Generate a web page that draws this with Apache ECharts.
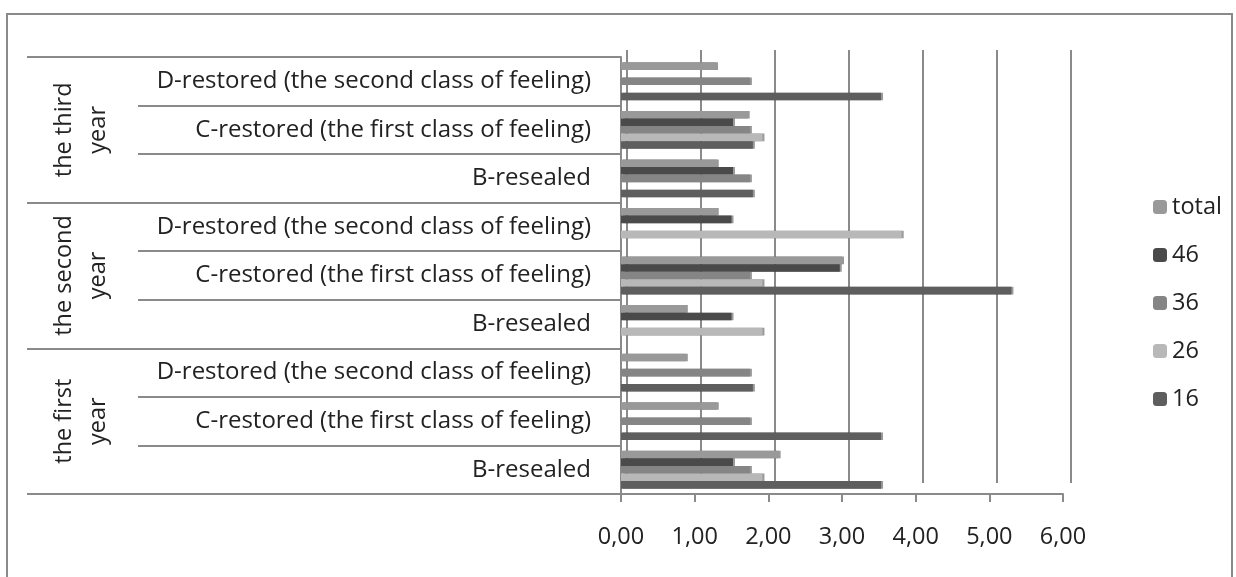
<!DOCTYPE html>
<html>
<head>
<meta charset="utf-8">
<script src="https://cdn.jsdelivr.net/npm/echarts@6/dist/echarts.min.js"></script>
<style>
html,body{margin:0;padding:0;background:#fff;}
#c{width:1236px;height:577px;}
</style>
</head>
<body>
<div id="c"></div>
<script>
// categories (bottom to top)
const categories = [
  'B-resealed', 'C-restored (the first class of feeling)', 'D-restored (the second class of feeling)',
  'B-resealed', 'C-restored (the first class of feeling)', 'D-restored (the second class of feeling)',
  'B-resealed', 'C-restored (the first class of feeling)', 'D-restored (the second class of feeling)'
];
const years = ['the first\nyear', 'the second\nyear', 'the third\nyear'];
// series listed top-to-bottom inside each category
const seriesNames = ['total', '46', '36', '26', '16'];
const sTot  = [2.14, 1.30, 0.88, 0.88, 3.00, 1.30, 1.30, 1.72, 1.29];
const s46   = [1.52, 0.00, 0.00, 1.50, 2.97, 1.50, 1.52, 1.52, 0.00];
const s36   = [1.75, 1.75, 1.75, 0.00, 1.75, 0.00, 1.75, 1.75, 1.75];
const s26   = [1.92, 0.00, 0.00, 1.92, 1.92, 3.81, 0.00, 1.92, 0.00];
const s16   = [3.53, 3.53, 1.79, 0.00, 5.30, 0.00, 1.79, 1.79, 3.53];
const xTicks = [0, 1, 2, 3, 4, 5, 6];

const colors = ['#999999', '#4a4a4a', '#858585', '#b8b8b8', '#5e5e5e'];
const values = [sTot, s46, s36, s26, s16];
const FONT = 'Open Sans';
const FS = 23.5;

const chart = echarts.init(document.getElementById('c'));
const series = seriesNames.map((n, i) => ({
  name: n,
  type: 'bar',
  xAxisIndex: 0,
  yAxisIndex: 0,
  data: values[i],
  barGap: '0%',
  barCategoryGap: '22%',
  itemStyle: { color: colors[i], shadowColor: 'rgba(0,0,0,0.4)', shadowOffsetX: 2, shadowOffsetY: 0, shadowBlur: 0 },
  z: 3
}));

chart.setOption({
  animation: false,
  backgroundColor: '#fff',
  textStyle: { fontFamily: FONT },
  graphic: [{
    type: 'rect', shape: { x: 7, y: 14, width: 1225, height: 620 },
    style: { fill: 'none', stroke: '#8a8a8a', lineWidth: 2 }, z: -10
  }],
  legend: {
    orient: 'vertical', left: 1148, top: 190,
    data: ['total', '46', '36', '26', '16'],
    itemWidth: 14, itemHeight: 14, itemGap: 24,
    textStyle: { fontFamily: FONT, fontSize: FS, color: '#222' }
  },
  grid: [
    { left: 621, top: 57, width: 442, height: 437 },
    { left: 627, top: 50, width: 444, height: 433 }
  ],
  xAxis: [
    {
      type: 'value', gridIndex: 0, min: xTicks[0], max: xTicks[xTicks.length - 1], interval: 1,
      axisLine: { show: true, lineStyle: { color: '#8a8a8a', width: 2 } },
      axisTick: { show: true, length: 8, lineStyle: { color: '#8a8a8a', width: 2 } },
      splitLine: { show: false },
      axisLabel: { margin: 31, fontSize: FS, color: '#222', fontFamily: FONT,
        formatter: v => v.toFixed(2).replace('.', ',') }
    },
    {
      type: 'value', gridIndex: 1, min: 0, max: 6, interval: 1,
      axisLine: { show: false }, axisTick: { show: false }, axisLabel: { show: false },
      splitLine: { show: true, lineStyle: { color: '#8a8a8a', width: 2 } }
    }
  ],
  yAxis: [
    {
      type: 'category', gridIndex: 0, data: categories,
      axisLine: { show: true, lineStyle: { color: '#8a8a8a', width: 2 } },
      axisTick: { show: true, interval: 0, length: 483, lineStyle: { color: '#8a8a8a', width: 2 } },
      axisLabel: { interval: 0, margin: 30, fontSize: 24, color: '#222', fontFamily: FONT }
    },
    {
      type: 'category', gridIndex: 0, data: years, position: 'left',
      axisLine: { show: false },
      axisTick: { show: true, interval: 0, length: 594, lineStyle: { color: '#8a8a8a', width: 2 } },
      axisLabel: { interval: 0, margin: 540, rotate: 90, fontSize: FS, color: '#222', fontFamily: FONT,
        lineHeight: 34, align: 'center', verticalAlign: 'middle', hideOverlap: false }
    },
    {
      type: 'category', gridIndex: 1, data: categories, show: false
    }
  ],
  series: series
});
</script>
</body>
</html>
